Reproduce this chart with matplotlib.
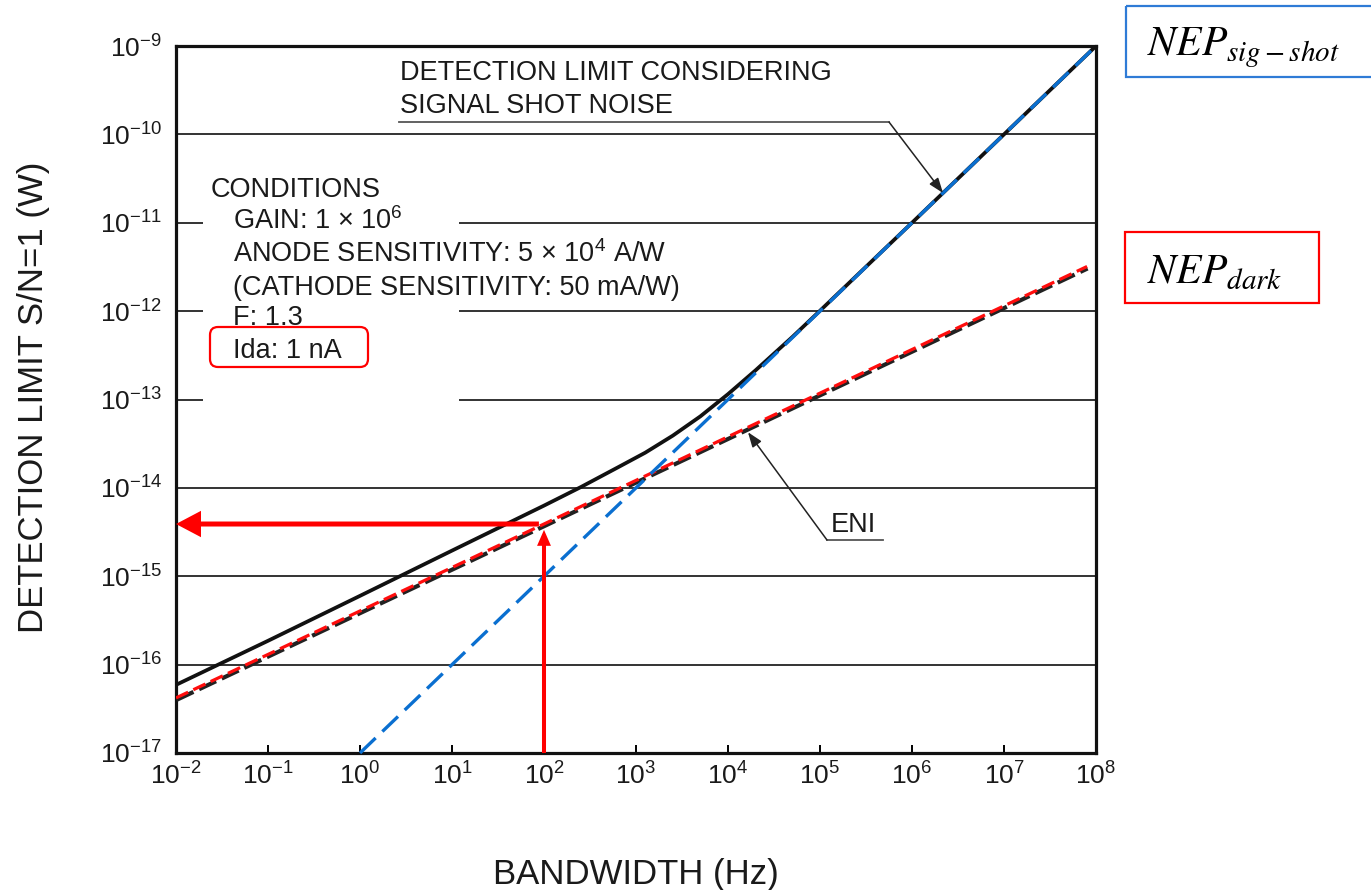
import matplotlib
matplotlib.use('Agg')
import matplotlib.pyplot as plt
from matplotlib import transforms
from matplotlib.patches import Rectangle, FancyBboxPatch
from matplotlib.ticker import NullLocator

# ---------------- data ----------------
x_tick_exp = [-2, -1, 0, 1, 2, 3, 4, 5, 6, 7, 8]
y_tick_exp = [-17, -16, -15, -14, -13, -12, -11, -10, -9]

# detection limit considering signal shot noise (solid black)
total_bw = [1e-2, 1e-1, 1e0, 1e1, 1e2, 251, 631, 1259, 2512, 5012, 1e4, 1.995e4,
            5.01e4, 1e5, 1e6, 1e7, 1e8]
total_nep = [5.9e-17, 1.86e-16, 6.0e-16, 1.95e-15, 6.3e-15, 1.02e-14, 1.7e-14, 2.5e-14,
             3.9e-14, 6.45e-14, 1.15e-13, 2.14e-13, 5.1e-13, 1.01e-12, 1.0e-11, 1.0e-10,
             1.0e-9]

# ENI / NEP_dark (red dashed)
eni_bw = [1e-2, 1e2, 8e7]
eni_nep = [4.2e-17, 3.9e-15, 3.2e-12]

# NEP signal shot (blue dashed)
shot_bw = [1e0, 1e8]
shot_nep = [1e-17, 1e-9]

# read-off example at 100 Hz
read_bw = 1e2
read_nep = 3.9e-15
read_tip = 3.35e-15

conditions = ["GAIN: 1 \u00d7 10$^{6}$",
              "ANODE SENSITIVITY: 5 \u00d7 10$^{4}$ A/W",
              "(CATHODE SENSITIVITY: 50 mA/W)",
              "F: 1.3",
              "Ida: 1 nA"]

# ---------------- style ----------------
plt.rcParams['font.family'] = ['Liberation Sans', 'DejaVu Sans']
plt.rcParams['mathtext.fontset'] = 'custom'
plt.rcParams['mathtext.rm'] = 'Liberation Sans'
plt.rcParams['mathtext.it'] = 'Liberation Sans:italic'
plt.rcParams['mathtext.default'] = 'regular'

TXT = '#1a1a1a'
W, H = 1371, 890
fig = plt.figure(figsize=(W / 100, H / 100), dpi=100)
ax = fig.add_axes([176 / W, 1 - 753 / H, 920 / W, 707 / H])
ax.set_xscale('log')
ax.set_yscale('log')
ax.set_xlim(1e-2, 1e8)
ax.set_ylim(1e-17, 1e-9)
ax.xaxis.set_minor_locator(NullLocator())
ax.yaxis.set_minor_locator(NullLocator())

for s in ax.spines.values():
    s.set_linewidth(2.3)
    s.set_color('#111111')

ax.set_xticks([10.0 ** e for e in x_tick_exp])
ax.set_xticklabels([r'$10^{%d}$' % e for e in x_tick_exp])
ax.set_yticks([10.0 ** e for e in y_tick_exp])
ax.set_yticklabels([r'$10^{%d}$' % e for e in y_tick_exp])
ax.tick_params(axis='x', direction='in', length=6, width=1.4, pad=7,
               labelsize=19, labelcolor=TXT, top=False)
ax.tick_params(axis='y', length=0, pad=10, labelsize=19, labelcolor=TXT, right=False)

# horizontal grid lines, broken where the condition text sits
blend = transforms.blended_transform_factory(ax.transAxes, ax.transData)
for e in y_tick_exp[1:-1]:
    if e in (-11, -12, -13):
        segs = [(0.0, 0.0293), (0.3076, 1.0)]
    else:
        segs = [(0.0, 1.0)]
    for a, b in segs:
        ax.plot([a, b], [10.0 ** e] * 2, transform=blend, color='#333333',
                lw=1.4, zorder=1, solid_capstyle='butt')

# curves
ax.plot(total_bw, total_nep, color='#111111', lw=2.7, zorder=3,
        solid_joinstyle='round')
shifted = transforms.offset_copy(ax.transData, fig=fig, x=0.5, y=-2, units='dots')
ax.plot(eni_bw, eni_nep, color='#222222', lw=3.0, dashes=(4.5, 1.5),
        transform=shifted, zorder=3)
ax.plot(eni_bw, eni_nep, color='#ff0d0d', lw=2.3, dashes=(4.2, 1.8), zorder=4)
ax.plot(shot_bw, shot_nep, color='#0a6fd0', lw=2.4, dashes=(6.5, 2.8), zorder=4,
        clip_on=False)

# red read-off arrows
ax.annotate('', xy=(read_bw, read_tip), xytext=(read_bw, 1e-17),
            arrowprops=dict(facecolor='#ff0000', edgecolor='none', width=2.9,
                            headwidth=10, headlength=11.5, shrink=0), zorder=5)
ax.annotate('', xy=(1e-2, read_nep), xytext=(read_bw * 0.88, read_nep),
            arrowprops=dict(facecolor='#ff0000', edgecolor='none', width=3.6,
                            headwidth=19, headlength=18, shrink=0), zorder=5)

# leader for "detection limit considering signal shot noise"
ax.plot([10 ** 0.424, 10 ** 5.75], [10 ** -9.86] * 2, color='#555555', lw=1.3, zorder=2)
ax.annotate('', xy=(10 ** 6.337, 10 ** -10.663), xytext=(10 ** 5.75, 10 ** -9.86),
            arrowprops=dict(arrowstyle='-|>,head_length=0.6,head_width=0.22',
                            color='#222222', lw=1.1, mutation_scale=15,
                            shrinkA=0, shrinkB=0), zorder=5)
ax.text(0.2435, 0.952, 'DETECTION LIMIT CONSIDERING', transform=ax.transAxes,
        fontsize=19.5, color=TXT, va='baseline', ha='left')
ax.text(0.2435, 0.905, 'SIGNAL SHOT NOISE', transform=ax.transAxes,
        fontsize=19.5, color=TXT, va='baseline', ha='left')

# leader for ENI
ax.plot([10 ** 5.076, 10 ** 5.685], [10 ** -14.59] * 2, color='#555555', lw=1.3, zorder=2)
ax.annotate('', xy=(10 ** 4.217, 10 ** -13.37), xytext=(10 ** 5.076, 10 ** -14.59),
            arrowprops=dict(arrowstyle='-|>,head_length=0.6,head_width=0.22',
                            color='#222222', lw=1.1, mutation_scale=15,
                            shrinkA=0, shrinkB=0), zorder=5)
ax.text(0.712, 0.3126, 'ENI', transform=ax.transAxes, fontsize=19.5, color=TXT,
        va='baseline', ha='left')

# conditions block
ax.text(0.038, 0.7864, 'CONDITIONS', transform=ax.transAxes, fontsize=19.5,
        color=TXT, va='baseline', ha='left')
cond_y = [0.7412, 0.6945, 0.6478, 0.6054, 0.5587]
for t, yy in zip(conditions, cond_y):
    ax.text(0.062, yy, t, transform=ax.transAxes, fontsize=19.5, color=TXT,
            va='baseline', ha='left')

# axis labels
ax.set_xlabel('BANDWIDTH (Hz)', fontsize=25, color=TXT)
ax.xaxis.set_label_coords(0.5, -0.1485)
ax.set_ylabel('DETECTION LIMIT S/N=1 (W)', fontsize=25, color=TXT)
ax.yaxis.set_label_coords(-0.137, 0.503)

# pixel-space transform (origin top-left) for overlay boxes
pix = transforms.Affine2D().scale(0.01, -0.01).translate(0, H / 100) + fig.dpi_scale_trans

fig.patches.append(FancyBboxPatch((210, 327), 158, 40,
                                  boxstyle='round,pad=0,rounding_size=8',
                                  transform=pix, fill=False, ec='#ff0000', lw=1.6))
fig.patches.append(Rectangle((1126, 6), 260, 71, transform=pix, fill=False,
                             ec='#2f7bd6', lw=1.6))
fig.patches.append(Rectangle((1125, 232), 194, 71, transform=pix, fill=False,
                             ec='#ff0000', lw=1.6))
fig.text(1147, 55, r'$\mathit{NEP}_{\mathit{sig-shot}}$', transform=pix, fontsize=30,
         math_fontfamily='stix', color='black', ha='left', va='baseline')
fig.text(1147, 283, r'$\mathit{NEP}_{\mathit{dark}}$', transform=pix, fontsize=30,
         math_fontfamily='stix', color='black', ha='left', va='baseline')

fig.savefig('out.png', dpi=100)
